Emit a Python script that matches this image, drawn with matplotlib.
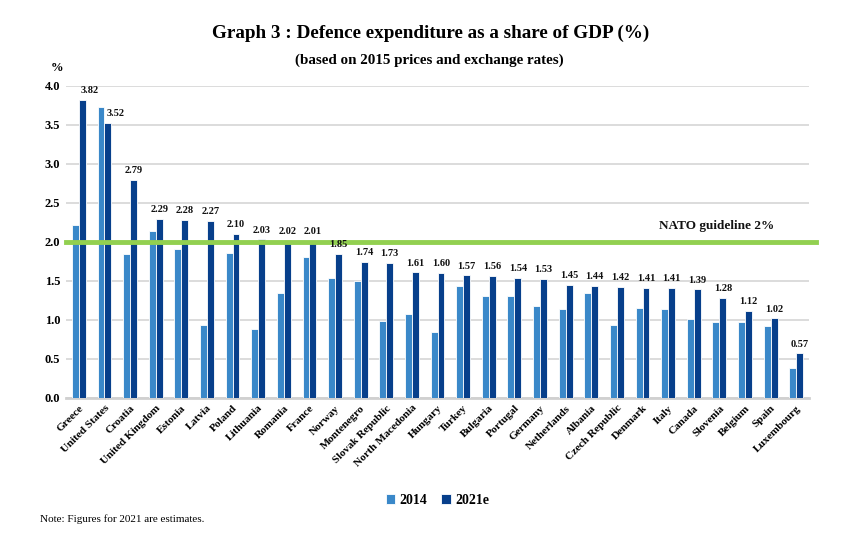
import matplotlib.pyplot as plt
import numpy as np

plt.rcParams['font.family'] = ['Liberation Serif', 'DejaVu Serif']

# --- Data ---
countries = ["Greece", "United States", "Croatia", "United Kingdom", "Estonia", "Latvia",
             "Poland", "Lithuania", "Romania", "France", "Norway", "Montenegro",
             "Slovak Republic", "North Macedonia", "Hungary", "Turkey", "Bulgaria",
             "Portugal", "Germany", "Netherlands", "Albania", "Czech Republic", "Denmark",
             "Italy", "Canada", "Slovenia", "Belgium", "Spain", "Luxembourg"]
vals_2014 = [2.22, 3.72, 1.84, 2.14, 1.91, 0.93, 1.86, 0.88, 1.34, 1.81, 1.54, 1.50,
             0.98, 1.08, 0.85, 1.44, 1.31, 1.30, 1.18, 1.14, 1.34, 0.94, 1.15,
             1.14, 1.01, 0.97, 0.97, 0.92, 0.38]
vals_2021 = [3.82, 3.52, 2.79, 2.29, 2.28, 2.27, 2.10, 2.03, 2.02, 2.01, 1.85, 1.74,
             1.73, 1.61, 1.60, 1.57, 1.56, 1.54, 1.53, 1.45, 1.44, 1.42, 1.41,
             1.41, 1.39, 1.28, 1.12, 1.02, 0.57]
nato_guideline = 2.0

c2014 = "#3A88C9"
c2021 = "#073F8B"

fig = plt.figure(figsize=(8.41, 5.34), dpi=100)
ax = fig.add_axes([0.0785, 0.2547, 0.8835, 0.585])

x = np.arange(len(countries))
w = 0.27
ax.bar(x - w / 2, vals_2014, w, color=c2014, edgecolor="white", linewidth=0.6,
       label="2014", zorder=3)
ax.bar(x + w / 2, vals_2021, w, color=c2021, edgecolor="white", linewidth=0.6,
       label="2021e", zorder=3)

# value labels above 2021 bars (first two pushed right like the original)
for i, (xi, v) in enumerate(zip(x, vals_2021)):
    dx = 0.3 if i < 2 else 0.0
    ax.text(xi + w / 2 + dx, v + 0.06, f"{v:.2f}", ha="center", va="bottom",
            fontsize=7.5, fontweight="bold", color="#111111", zorder=5)

# NATO guideline
ax.plot([-0.5, 28.78], [nato_guideline, nato_guideline], color="#92D050", lw=3.5,
        clip_on=False, zorder=4)
ax.text(24.9, 2.12, "NATO guideline 2%", ha="center", va="bottom", fontsize=9.5,
        fontweight="bold", color="#111111")

ax.set_xlim(-0.5, len(countries) - 0.5)
ax.set_ylim(0, 4.0)
ax.set_yticks(np.arange(0, 4.01, 0.5))
ax.set_yticklabels([f"{t:.1f}" for t in np.arange(0, 4.01, 0.5)],
                   fontsize=9, fontweight="bold")
ax.set_xticks(x)
ax.set_xticklabels(countries, rotation=45, ha="right", rotation_mode="anchor",
                   fontsize=8, fontweight="bold")
ax.tick_params(axis="both", length=0, pad=4)
ax.grid(axis="y", color="#D9D9D9", lw=1.3, zorder=0)
for s in ["top", "right", "left"]:
    ax.spines[s].set_visible(False)
ax.spines["bottom"].set_color("#D0D0D0")
ax.spines["bottom"].set_linewidth(2)

fig.text(0.512, 0.938, "Graph 3 : Defence expenditure as a share of GDP (%)",
         ha="center", va="center", fontsize=13.8, fontweight="bold")
fig.text(0.51, 0.887, "(based on 2015 prices and exchange rates)",
         ha="center", va="center", fontsize=10.8, fontweight="bold")
fig.text(0.068, 0.872, "%", ha="center", va="center", fontsize=9, fontweight="bold")
fig.text(0.047, 0.028, "Note: Figures for 2021 are estimates.", ha="left",
         va="center", fontsize=8)

fig.legend(loc="center", bbox_to_anchor=(0.52, 0.063), ncol=2, frameon=False,
           prop={"weight": "bold", "size": 10}, handlelength=0.7, handleheight=0.7,
           handletextpad=0.3, columnspacing=1.0)

plt.savefig("out.png", dpi=100)
plt.close()
